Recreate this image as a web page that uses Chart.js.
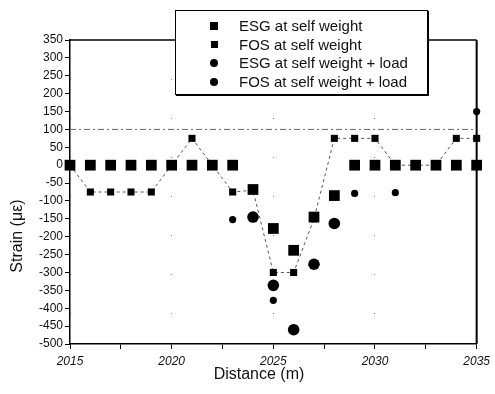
<!DOCTYPE html>
<html lang="en">
<head>
    <meta charset="UTF-8">
    <title>Strain vs Distance</title>
    <script src="https://cdn.jsdelivr.net/npm/chart.js"></script>
    <style>
        body {
            margin: 0;
            background: #fff;
            font-family: "Liberation Sans", Arial, sans-serif;
        }
        .wrap {
            position: relative;
            width: 495px;
            height: 394px;
        }
        .legend {
            position: absolute;
            left: 175px;
            top: 10px;
            width: 251px;
            height: 83px;
            background: #fff;
            border: 1px solid #000;
            box-shadow: 1px 1px 0 #000;
            font-size: 15px;
            color: #111;
        }
        .legend div {
            position: absolute;
            left: 63px;
            height: 18px;
            line-height: 18px;
            white-space: nowrap;
        }
        .legend span {
            position: absolute;
            left: -29px;
            top: 5px;
            width: 8px;
            height: 8px;
            background: #000;
        }
    </style>
</head>
<body>
    <div class="wrap">
        <canvas id="strainChart"></canvas>
        <div class="legend" id="legend"></div>
    </div>

    <script>
        // distance along the section (m)
        let distance = [2015, 2016, 2017, 2018, 2019, 2020, 2021, 2022, 2023, 2024, 2025,
                        2026, 2027, 2028, 2029, 2030, 2031, 2032, 2033, 2034, 2035];

        let esgSelf = [0, -75, -75, -75, -75, 0, 75, 0, -75, -70, -300,
                       -300, -150, 75, 75, 75, 0, 0, 0, 75, 75];
        let fosSelf = [0, 0, 0, 0, 0, 0, 0, 0, 0, -68, -177,
                       -238, -145, -85, 0, 0, 0, 0, 0, 0, 0];
        let esgLoad = [null, null, null, null, null, null, null, null, -152, null, -378,
                       null, null, null, -79, null, -77, null, null, null, 150];
        let fosLoad = [null, null, null, null, null, null, null, null, null, -145, -336,
                       -460, -277, -163, null, null, null, null, null, null, null];
        let refLevel = 100;

        let seriesNames = ['ESG at self weight', 'FOS at self weight',
                           'ESG at self weight + load', 'FOS at self weight + load'];
        let xTitle = 'Distance (m)';
        let yTitle = 'Strain (\u03bc\u03b5)';

        function toPoints(vals) {
            let pts = [];
            vals.forEach((v, i) => { if (v !== null) pts.push({ x: distance[i], y: v }); });
            return pts;
        }

        // build legend
        let legend = document.getElementById('legend');
        seriesNames.forEach((name, i) => {
            let row = document.createElement('div');
            row.style.top = (6 + i * 18.5) + 'px';
            let icon = document.createElement('span');
            if (i >= 2) icon.style.borderRadius = '50%';
            if (i === 1) { icon.style.width = '7px'; icon.style.height = '7px'; icon.style.left = '-28px'; }
            row.appendChild(icon);
            row.appendChild(document.createTextNode(name));
            legend.appendChild(row);
        });

        const frame = {
            id: 'frame',
            beforeDatasetsDraw(chart) {
                const { ctx, chartArea: a } = chart;
                ctx.save();
                ctx.strokeStyle = '#000';
                ctx.lineWidth = 1.5;
                ctx.beginPath();
                ctx.moveTo(a.left, a.top);
                ctx.lineTo(a.right, a.top);
                ctx.stroke();
                ctx.lineWidth = 2;
                ctx.beginPath();
                ctx.moveTo(a.right, a.top);
                ctx.lineTo(a.right, a.bottom);
                ctx.stroke();
                ctx.restore();
            },
            afterDraw(chart) {
                const { ctx, chartArea: a } = chart;
                ctx.save();
                ctx.fillStyle = '#111';
                ctx.font = '16px "Liberation Sans", Arial, sans-serif';
                ctx.textAlign = 'center';
                ctx.textBaseline = 'middle';
                ctx.fillText(xTitle, a.left + 189, a.bottom + 31);
                ctx.translate(18, a.top + 196);
                ctx.rotate(-Math.PI / 2);
                ctx.fillText(yTitle, 0, 0);
                ctx.restore();
            }
        };

        let font = { family: '"Liberation Sans", Arial, sans-serif', size: 12 };

        let strainChart = new Chart(document.getElementById('strainChart'), {
            type: 'scatter',
            data: {
                datasets: [
                    {
                        label: 'reference',
                        data: [{ x: distance[0], y: refLevel }, { x: distance[distance.length - 1], y: refLevel }],
                        showLine: true, pointRadius: 0, borderColor: '#666', borderWidth: 1,
                        borderDash: [6, 3, 2, 3], order: 5
                    },
                    {
                        label: seriesNames[0], data: toPoints(esgSelf), showLine: true,
                        borderColor: '#555', borderWidth: 1, borderDash: [3, 3],
                        pointStyle: 'rect', pointRadius: 5, backgroundColor: '#000',
                        pointBorderWidth: 0, order: 4, clip: false
                    },
                    {
                        label: seriesNames[2], data: toPoints(esgLoad),
                        pointStyle: 'circle', pointRadius: 3.6, backgroundColor: '#000',
                        pointBorderWidth: 0, order: 3, clip: false
                    },
                    {
                        label: seriesNames[3], data: toPoints(fosLoad),
                        pointStyle: 'circle', pointRadius: 5.8, backgroundColor: '#000',
                        pointBorderWidth: 0, order: 2, clip: false
                    },
                    {
                        label: seriesNames[1], data: toPoints(fosSelf),
                        pointStyle: 'rect', pointRadius: 7.6, backgroundColor: '#000',
                        pointBorderWidth: 0, order: 1, clip: false
                    }
                ]
            },
            options: {
                responsive: true,
                maintainAspectRatio: false,
                animation: false,
                layout: { padding: { top: 40, right: 12, left: 0, bottom: 0 } },
                plugins: { legend: { display: false }, tooltip: { enabled: false } },
                scales: {
                    x: {
                        type: 'linear', min: 2015, max: 2035,
                        afterFit: s => { s.height = 50; },
                        ticks: {
                            stepSize: 2.5, padding: 5, color: '#111',
                            font: Object.assign({ style: 'italic' }, font),
                            callback: v => (v % 5 === 0 ? String(v) : '')
                        },
                        grid: {
                            color: c => (c.tick && c.tick.value % 5 === 0 ? '#888' : 'rgba(0,0,0,0)'),
                            tickColor: '#000', tickLength: 5, lineWidth: 1
                        },
                        border: { color: '#000', width: 1.5, dash: [1, 38] }
                    },
                    y: {
                        min: -500, max: 350,
                        afterFit: s => { s.width = 70; },
                        ticks: {
                            stepSize: 25, padding: 2, color: '#111', font: font,
                            callback: v => (v % 50 === 0 ? String(v) : '')
                        },
                        grid: { drawOnChartArea: false, tickColor: '#000', tickLength: 5 },
                        border: { color: '#000', width: 1.5 }
                    }
                }
            },
            plugins: [frame]
        });
    </script>
</body>
</html>
